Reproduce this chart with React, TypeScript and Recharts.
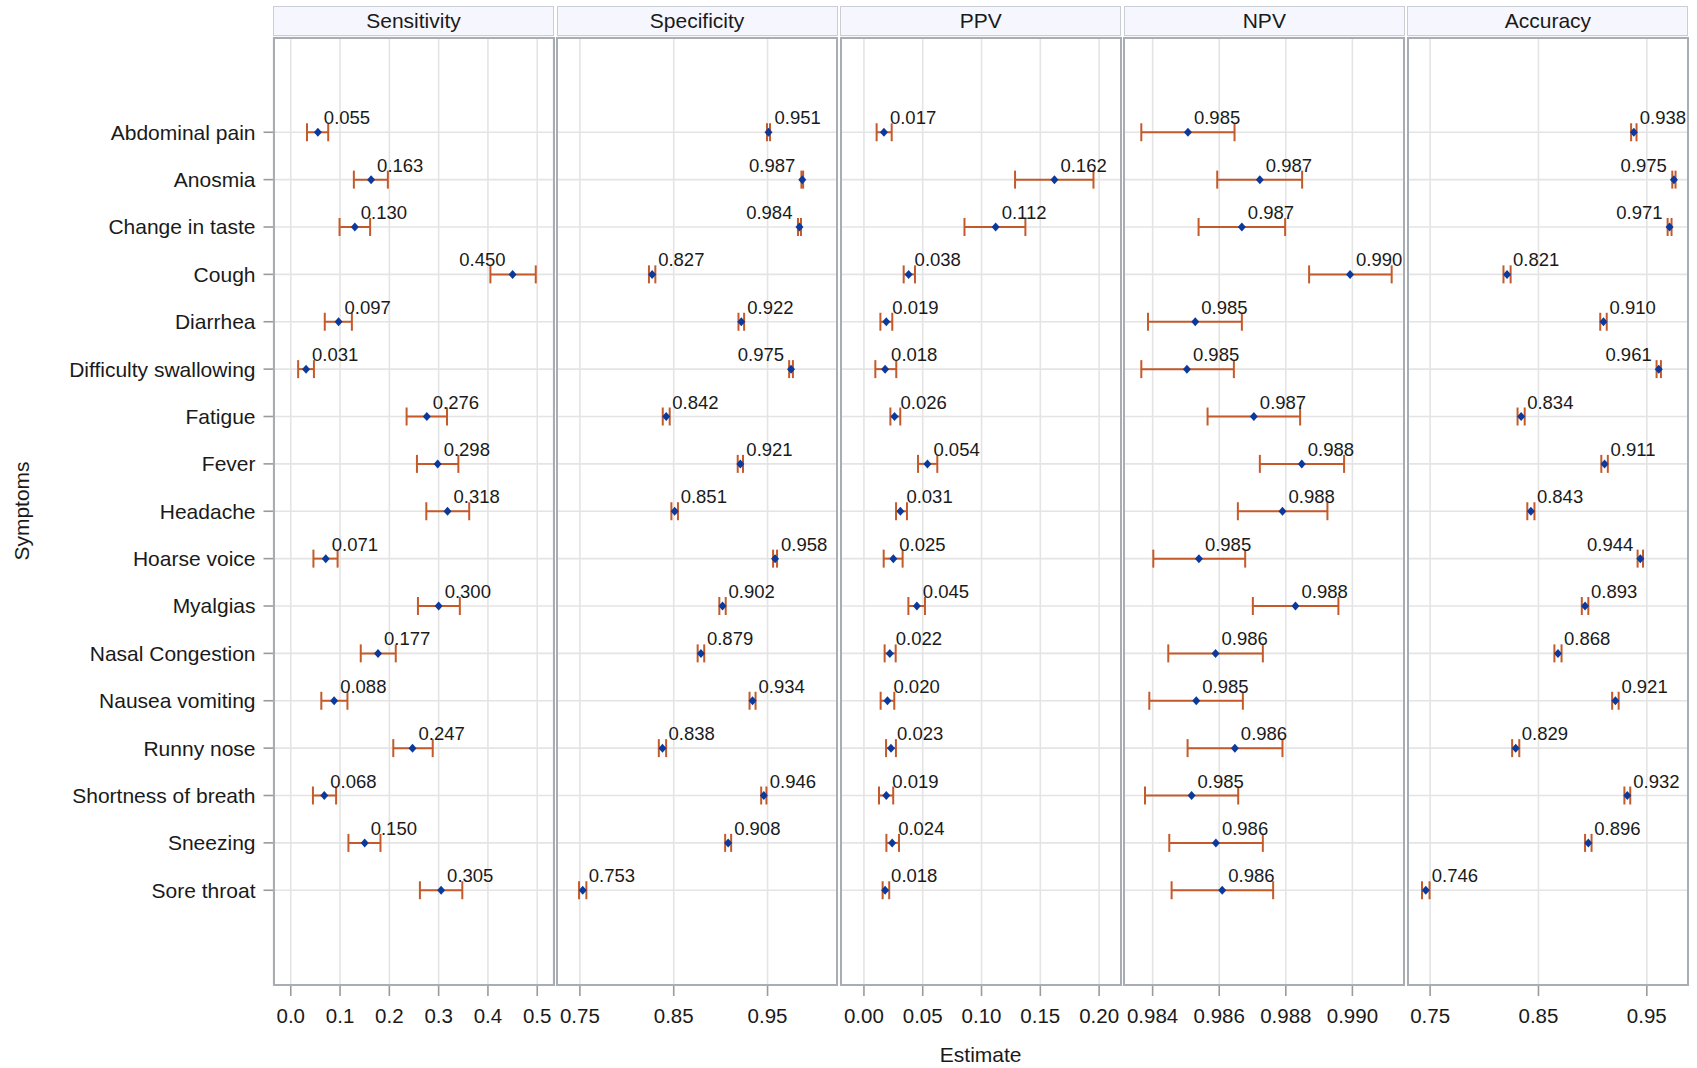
import { ScatterChart, Scatter, XAxis, YAxis, CartesianGrid, ErrorBar } from 'recharts'

const symptoms = [
  'Abdominal pain', 'Anosmia', 'Change in taste', 'Cough', 'Diarrhea', 'Difficulty swallowing',
  'Fatigue', 'Fever', 'Headache', 'Hoarse voice', 'Myalgias', 'Nasal Congestion',
  'Nausea vomiting', 'Runny nose', 'Shortness of breath', 'Sneezing', 'Sore throat',
]

const sensitivity = [0.055, 0.163, 0.130, 0.450, 0.097, 0.031, 0.276, 0.298, 0.318, 0.071, 0.300, 0.177, 0.088, 0.247, 0.068, 0.150, 0.305]
const sensitivityLow = [0.033, 0.128, 0.099, 0.405, 0.069, 0.015, 0.235, 0.256, 0.275, 0.046, 0.258, 0.142, 0.062, 0.208, 0.045, 0.117, 0.262]
const sensitivityHigh = [0.076, 0.197, 0.161, 0.497, 0.124, 0.047, 0.317, 0.340, 0.362, 0.095, 0.343, 0.213, 0.115, 0.288, 0.092, 0.182, 0.348]

const specificity = [0.951, 0.987, 0.984, 0.827, 0.922, 0.975, 0.842, 0.921, 0.851, 0.958, 0.902, 0.879, 0.934, 0.838, 0.946, 0.908, 0.753]
const specificityLow = [0.9494, 0.9861, 0.9824, 0.8236, 0.919, 0.973, 0.8383, 0.9182, 0.8475, 0.9559, 0.8986, 0.8755, 0.9308, 0.8341, 0.9432, 0.9048, 0.7491]
const specificityHigh = [0.9526, 0.9879, 0.9856, 0.8304, 0.925, 0.977, 0.8457, 0.9238, 0.8545, 0.9601, 0.9054, 0.8825, 0.9372, 0.8419, 0.9488, 0.9112, 0.7569]

const ppv = [0.017, 0.162, 0.112, 0.038, 0.019, 0.018, 0.026, 0.054, 0.031, 0.025, 0.045, 0.022, 0.020, 0.023, 0.019, 0.024, 0.018]
const ppvLow = [0.0108, 0.1285, 0.0855, 0.0338, 0.014, 0.0097, 0.0225, 0.046, 0.0273, 0.0168, 0.0378, 0.0176, 0.0142, 0.0188, 0.0128, 0.0191, 0.0159]
const ppvHigh = [0.0236, 0.1952, 0.1373, 0.0434, 0.0241, 0.0275, 0.0309, 0.0624, 0.0366, 0.0329, 0.0519, 0.027, 0.0258, 0.0272, 0.0249, 0.0298, 0.0215]

const npv = [0.98506, 0.98722, 0.98668, 0.98993, 0.98528, 0.98503, 0.98704, 0.98848, 0.9879, 0.98539, 0.98829, 0.98589, 0.98531, 0.98647, 0.98517, 0.9859, 0.98609]
const npvLow = [0.98366, 0.98594, 0.98538, 0.9887, 0.98386, 0.98366, 0.98565, 0.98722, 0.98656, 0.98402, 0.98701, 0.98447, 0.9839, 0.98505, 0.98377, 0.9845, 0.98457]
const npvHigh = [0.98646, 0.98849, 0.98798, 0.99118, 0.98668, 0.98644, 0.98843, 0.98975, 0.98925, 0.98678, 0.98958, 0.98731, 0.98671, 0.9879, 0.98657, 0.98731, 0.98762]

const accuracy = [0.938, 0.975, 0.971, 0.821, 0.910, 0.961, 0.834, 0.911, 0.843, 0.944, 0.893, 0.868, 0.921, 0.829, 0.932, 0.896, 0.746]
const accuracyLow = [0.9355, 0.9735, 0.9692, 0.8177, 0.907, 0.959, 0.8307, 0.908, 0.8397, 0.9415, 0.89, 0.8647, 0.918, 0.8257, 0.9293, 0.893, 0.7425]
const accuracyHigh = [0.9405, 0.9765, 0.9728, 0.8243, 0.913, 0.963, 0.8373, 0.914, 0.8463, 0.9465, 0.896, 0.8713, 0.924, 0.8323, 0.9347, 0.899, 0.7495]

const sensTicks = [0, 0.1, 0.2, 0.3, 0.4, 0.5]
const specTicks = [0.75, 0.85, 0.95]
const ppvTicks = [0, 0.05, 0.1, 0.15, 0.2]
const npvTicks = [0.984, 0.986, 0.988, 0.99]
const accTicks = [0.75, 0.85, 0.95]
const rowTicks = symptoms.map((_, i) => i)

const FONT = '"Liberation Sans", Arial, Helvetica, sans-serif'
const PLOT_TOP = 37.5
const PLOT_BOTTOM = 985
const PANEL_W = 280
const PANEL_LEFTS = [273.5, 557.1, 840.7, 1124.3, 1407.9]

type Panel = {
  title: string
  values: number[]
  low: number[]
  high: number[]
  domain: [number, number]
  ticks: number[]
  digits: number
}

const panels: Panel[] = [
  { title: 'Sensitivity', values: sensitivity, low: sensitivityLow, high: sensitivityHigh, domain: [-0.035, 0.533], ticks: sensTicks, digits: 1 },
  { title: 'Specificity', values: specificity, low: specificityLow, high: specificityHigh, domain: [0.7256, 1.024], ticks: specTicks, digits: 2 },
  { title: 'PPV', values: ppv, low: ppvLow, high: ppvHigh, domain: [-0.0195, 0.2186], ticks: ppvTicks, digits: 2 },
  { title: 'NPV', values: npv, low: npvLow, high: npvHigh, domain: [0.98314, 0.99155], ticks: npvTicks, digits: 3 },
  { title: 'Accuracy', values: accuracy, low: accuracyLow, high: accuracyHigh, domain: [0.7296, 0.988], ticks: accTicks, digits: 2 },
]

// diamond marker plus the value label (flipped to the left near the panel edge)
function Marker(props: any) {
  const { cx, cy, payload, plotRight } = props
  const left = plotRight - cx < 52
  return (
    <g>
      <path d={`M${cx},${cy - 4.5}L${cx + 4},${cy}L${cx},${cy + 4.5}L${cx - 4},${cy}Z`} fill="#0B3A9C" />
      <text
        x={left ? cx - 7 : cx + 6}
        y={cy - 8}
        textAnchor={left ? 'end' : 'start'}
        fontSize={18.5}
        fontFamily={FONT}
        fill="#1a1a1a"
      >
        {payload.label}
      </text>
    </g>
  )
}

function PanelChart({ panel, index }: { panel: Panel; index: number }) {
  const first = index === 0
  const yW = first ? PANEL_LEFTS[0] : 0
  const rows = symptoms.map((name, i) => ({
    name,
    x: panel.values[i],
    y: i,
    err: [panel.values[i] - panel.low[i], panel.high[i] - panel.values[i]],
    label: panel.values[i].toFixed(3),
  }))

  return (
    <div style={{ position: 'absolute', left: first ? 0 : PANEL_LEFTS[index], top: 0 }}>
      <ScatterChart width={yW + PANEL_W} height={1068} margin={{ top: PLOT_TOP, right: 0, bottom: 0, left: 0 }}>
        <CartesianGrid stroke="#E4E4E4" strokeWidth={1.6} />
        <XAxis
          type="number"
          dataKey="x"
          domain={panel.domain}
          allowDataOverflow
          ticks={panel.ticks}
          interval={0}
          tickFormatter={(v: number) => v.toFixed(panel.digits)}
          height={PLOT_TOP + 1068 - PLOT_BOTTOM - PLOT_TOP}
          axisLine={false}
          tickLine={{ stroke: '#9B9B9B', strokeWidth: 1.6 }}
          tickSize={11}
          tickMargin={12}
          tick={{ fontSize: 20.5, fill: '#1a1a1a', fontFamily: FONT }}
        />
        <YAxis
          type="number"
          dataKey="y"
          domain={[-2, 18]}
          reversed
          allowDataOverflow
          ticks={rowTicks}
          interval={0}
          hide={!first}
          width={yW}
          axisLine={false}
          tickLine={{ stroke: '#9B9B9B', strokeWidth: 1.6 }}
          tickSize={10}
          tickMargin={8}
          tickFormatter={(v: number) => symptoms[v] ?? ''}
          tick={{ fontSize: 21, fill: '#1a1a1a', fontFamily: FONT }}
        />
        <Scatter
          data={rows}
          isAnimationActive={false}
          shape={(p: any) => <Marker {...p} plotRight={yW + PANEL_W} />}
        >
          <ErrorBar dataKey="err" direction="x" width={9} stroke="#C45A2A" strokeWidth={2} isAnimationActive={false} />
        </Scatter>
      </ScatterChart>
    </div>
  )
}

export default function App() {
  return (
    <div style={{ position: 'absolute', left: 0, top: 0, width: 1697, height: 1068, background: '#fff', fontFamily: FONT }}>
      {panels.map((p, i) => (
        <PanelChart key={p.title} panel={p} index={i} />
      ))}
      {panels.map((p, i) => (
        <div
          key={'strip' + i}
          style={{
            position: 'absolute',
            left: PANEL_LEFTS[i] - 0.5,
            top: 6,
            width: PANEL_W + 1,
            height: 29.5,
            boxSizing: 'border-box',
            border: '1.5px solid #C9CDD4',
            background: '#F6F7FE',
            display: 'flex',
            alignItems: 'center',
            justifyContent: 'center',
            fontSize: 21,
            color: '#1a1a1a',
          }}
        >
          {p.title}
        </div>
      ))}
      {panels.map((p, i) => (
        <div
          key={'border' + i}
          style={{
            position: 'absolute',
            left: PANEL_LEFTS[i] - 1,
            top: PLOT_TOP - 1,
            width: PANEL_W + 2,
            height: PLOT_BOTTOM - PLOT_TOP + 2,
            boxSizing: 'border-box',
            border: '2px solid #A8ADB4',
            pointerEvents: 'none',
          }}
        />
      ))}
      <div
        style={{
          position: 'absolute',
          left: 22,
          top: (PLOT_TOP + PLOT_BOTTOM) / 2,
          transform: 'translate(-50%, -50%) rotate(-90deg)',
          fontSize: 21,
          color: '#1a1a1a',
          whiteSpace: 'nowrap',
        }}
      >
        Symptoms
      </div>
      <div
        style={{
          position: 'absolute',
          left: (PANEL_LEFTS[0] + PANEL_LEFTS[4] + PANEL_W) / 2,
          top: 1055,
          transform: 'translate(-50%, -50%)',
          fontSize: 21,
          color: '#1a1a1a',
          whiteSpace: 'nowrap',
        }}
      >
        Estimate
      </div>
    </div>
  )
}
